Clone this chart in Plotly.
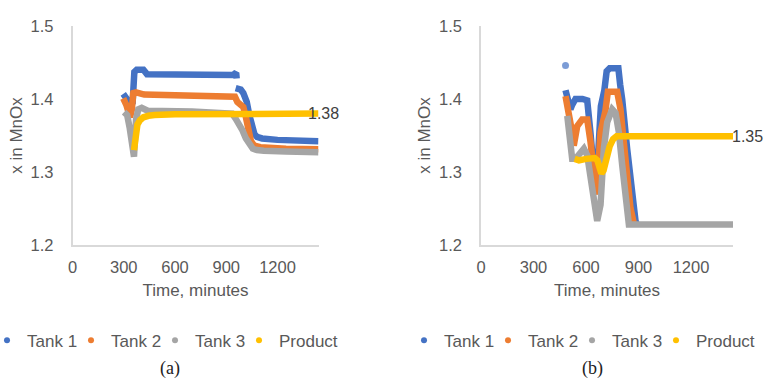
import plotly.graph_objects as go

# ---- (a) ----
tank1_a_t = [297, 327, 342, 352, 362, 376, 415, 436, 700, 941, 958, 961, None,
             955, 985, 1000, 1020, 1035, 1050, 1065, 1080, 1110, 1200, 1440]
tank1_a_v = [1.407, 1.398, 1.392, 1.395, 1.437, 1.440, 1.440, 1.434, 1.433, 1.433, 1.436, 1.428, None,
             1.415, 1.413, 1.408, 1.396, 1.378, 1.360, 1.352, 1.348, 1.346, 1.344, 1.342]
tank2_a_t = [297, 315, 337, 347, 356, 372, 420, 700, 945, 951, 965, 985, 1000, 1015,
             1030, 1045, 1065, 1100, 1250, 1440]
tank2_a_v = [1.401, 1.392, 1.375, 1.385, 1.408, 1.409, 1.406, 1.405, 1.405, 1.403, 1.396, 1.391,
             1.389, 1.375, 1.355, 1.342, 1.336, 1.334, 1.332, 1.331]
tank3_a_t = [302, 320, 335, 350, 360, 372, 385, 405, 440, 700, 935, 955, 975, 995,
             1015, 1035, 1055, 1080, 1120, 1250, 1440]
tank3_a_v = [1.382, 1.378, 1.360, 1.330, 1.321, 1.372, 1.386, 1.388, 1.384, 1.383, 1.380, 1.373,
             1.366, 1.357, 1.346, 1.337, 1.332, 1.330, 1.329, 1.328, 1.327]
prod_a_t = [360, 364, 370, 380, 395, 415, 445, 480, 600, 1000, 1440]
prod_a_v = [1.330, 1.340, 1.355, 1.365, 1.371, 1.375, 1.377, 1.378, 1.379, 1.380, 1.380]

# ---- (b) ----
tank1_b_t = [483, None, 483, 502, 511, 521, 540, 580, 607, 625, 645, 660, 672, 685, 705, 718,
             735, 785, 795, 807, 835, 864, 883, 890]
tank1_b_v = [1.446, None, 1.412, 1.395, 1.386, 1.392, 1.400, 1.400, 1.398, 1.355, 1.300, 1.285,
             1.330, 1.390, 1.412, 1.438, 1.442, 1.442, 1.420, 1.399, 1.332, 1.264, 1.233, 1.228]
tank2_b_t = [483, 502, 521, 530, 550, 578, 607, 626, 645, 660, 683, 711, 725, 778, 797,
             826, 854, 873]
tank2_b_v = [1.404, 1.384, 1.354, 1.336, 1.363, 1.372, 1.372, 1.341, 1.296, 1.269, 1.354, 1.384,
             1.410, 1.410, 1.386, 1.318, 1.251, 1.230]
tank3_b_t = [493, 521, 540, 569, 588, 607, 664, 683, 702, 721, 750, 769, 788, 807, 826,
             845, 1440]
tank3_b_v = [1.377, 1.318, 1.318, 1.327, 1.332, 1.323, 1.233, 1.255, 1.332, 1.368, 1.386, 1.381,
             1.354, 1.309, 1.264, 1.228, 1.228]
prod_b_t = [535, 560, 600, 650, 665, 675, 688, 700, 715, 735, 755, 775, 1440]
prod_b_v = [1.318, 1.316, 1.318, 1.319, 1.316, 1.306, 1.298, 1.302, 1.318, 1.335, 1.345,
            1.349, 1.349]

series_names = ["Tank 1", "Tank 2", "Tank 3", "Product"]
colors = ["#4472C4", "#ED7D31", "#A5A5A5", "#FFC000"]
y_ticks = [1.2, 1.3, 1.4, 1.5]
x_ticks = [0, 300, 600, 900, 1200]

W, H = 764, 380
FONT = "Liberation Sans, Arial, sans-serif"
GREY = "#595959"
LW = 6.5

panels = [
    dict(xa="x", ya="y", leg="legend", label_shift=-13,
         data=[(tank1_a_t, tank1_a_v), (tank2_a_t, tank2_a_v),
               (tank3_a_t, tank3_a_v), (prod_a_t, prod_a_v)]),
    dict(xa="x2", ya="y2", leg="legend2", label_shift=-3,
         data=[(tank1_b_t, tank1_b_v), (tank2_b_t, tank2_b_v),
               (tank3_b_t, tank3_b_v), (prod_b_t, prod_b_v)]),
]

fig = go.Figure()
for p in panels:
    for name, col, (t, v) in zip(series_names, colors, p["data"]):
        # single isolated readings get a dot, everything else is a thick trace
        sizes = []
        for i in range(len(t)):
            prev_none = i == 0 or t[i - 1] is None
            next_none = i == len(t) - 1 or t[i + 1] is None
            sizes.append(7 if (t[i] is not None and prev_none and next_none) else 0)
        fig.add_trace(go.Scatter(
            x=t, y=v, mode="lines+markers", name=name,
            line=dict(color=col, width=LW),
            marker=dict(color=col, size=sizes, line=dict(width=0)),
            xaxis=p["xa"], yaxis=p["ya"], showlegend=False, connectgaps=False,
            hoverinfo="skip"))
    # legend entries shown as small dots
    for name, col in zip(series_names, colors):
        fig.add_trace(go.Scatter(
            x=[None], y=[None], mode="markers", name=name,
            marker=dict(color=col, size=6), xaxis=p["xa"], yaxis=p["ya"],
            legend=p["leg"], showlegend=True,
            legendwidth=54 if name != "Product" else 90))

# value labels at the end of the Product series
for p in panels:
    t, v = p["data"][3]
    fig.add_annotation(x=t[-1], y=v[-1], xref=p["xa"], yref=p["ya"],
                       text=f"{v[-1]:.2f}", showarrow=False, xanchor="left",
                       yanchor="middle", xshift=p["label_shift"],
                       font=dict(family=FONT, size=16, color="#404040"))

ydom = [1 - 245 / H, 1 - 26 / H]
axis_common = dict(showgrid=False, zeroline=False, showline=True, linecolor="#D9D9D9",
                   linewidth=1.5, ticks="", tickfont=dict(family=FONT, size=16.5, color=GREY))
xaxis_common = dict(axis_common, range=[0, 1440], tickvals=x_ticks, ticklabelstandoff=6,
                    title=dict(text="Time, minutes", font=dict(family=FONT, size=17, color=GREY),
                               standoff=10))
yaxis_common = dict(axis_common, range=[1.2, 1.5], tickvals=y_ticks, tickformat=".1f",
                    ticklabelstandoff=14,
                    title=dict(text="x in MnOx", font=dict(family=FONT, size=17, color=GREY),
                               standoff=4))

legend_common = dict(orientation="h", yanchor="middle", y=1 - 340.7 / H, xanchor="left",
                     font=dict(family=FONT, size=17, color=GREY), bgcolor="rgba(0,0,0,0)",
                     itemclick=False, indentation=-15)

fig.update_layout(
    width=W, height=H, margin=dict(l=0, r=0, t=0, b=0, autoexpand=False),
    paper_bgcolor="white", plot_bgcolor="white",
    xaxis=dict(xaxis_common, domain=[72.5 / W, 318.5 / W], anchor="y"),
    yaxis=dict(yaxis_common, domain=ydom, anchor="x"),
    xaxis2=dict(xaxis_common, domain=[481 / W, 733 / W], anchor="y2"),
    yaxis2=dict(yaxis_common, domain=ydom, anchor="x2"),
    legend=dict(legend_common, x=2 / W),
    legend2=dict(legend_common, x=419 / W),
    showlegend=True,
)

for txt, xc in [("(a)", 170), ("(b)", 592)]:
    fig.add_annotation(x=xc / W, y=1 - 368 / H, xref="paper", yref="paper", text=txt,
                       showarrow=False, xanchor="center", yanchor="middle",
                       font=dict(family="Liberation Serif, Times New Roman, serif", size=18,
                                 color="#222222"))

fig.write_html("out.html")
